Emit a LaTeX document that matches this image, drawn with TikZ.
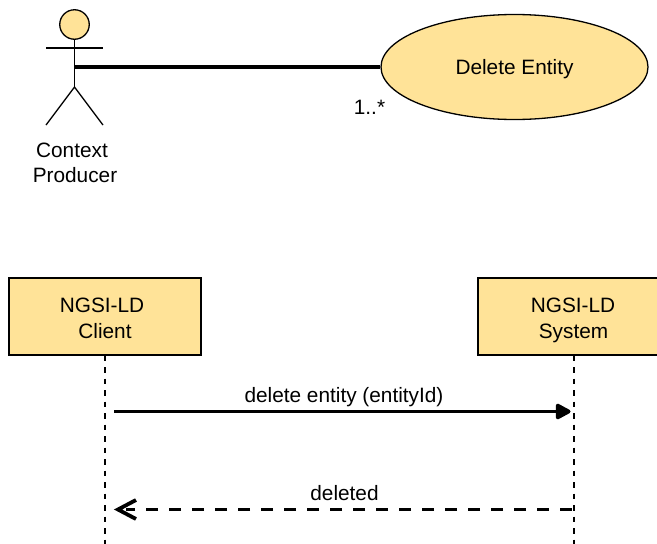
\documentclass[tikz,border=0pt]{standalone}
\usepackage{fontspec}
\setmainfont{Liberation Sans}
\usetikzlibrary{shapes.geometric,arrows.meta}
\definecolor{fillY}{HTML}{FFE398}
\pgfdeclarearrow{
  name=OpenVee,
  setup code={
    \pgfarrowssettipend{0pt}
    \pgfarrowssetlineend{-10pt}
    \pgfarrowssetbackend{-20pt}
    \pgfarrowshullpoint{0pt}{0pt}
    \pgfarrowshullpoint{-20pt}{11pt}
    \pgfarrowshullpoint{-20pt}{-11pt}
  },
  drawing code={
    \pgfsetdash{}{0pt}
    \pgfsetlinewidth{3.8pt}
    \pgfsetmiterjoin
    \pgfpathmoveto{\pgfpoint{-20pt}{9.5pt}}
    \pgfpathlineto{\pgfpoint{-2pt}{0pt}}
    \pgfpathlineto{\pgfpoint{-20pt}{-9.5pt}}
    \pgfusepathqstroke
  },
}
\tikzset{
  x=1pt,y=-1pt,
  txt/.style={font=\fontsize{20.8pt}{25pt}\selectfont,align=center,inner sep=0pt},
  small/.style={font=\fontsize{20.8pt}{25pt}\selectfont,inner sep=0pt},
  box/.style={draw=black,fill=fillY,line width=1.3pt,rectangle,minimum width=192pt,minimum height=77pt,inner sep=0pt,align=center,font=\fontsize{20.8pt}{26.5pt}\selectfont},
  limb/.style={draw=black,line width=1.3pt},
  life/.style={draw=black,line width=1.3pt,dash pattern=on 5.5pt off 6pt},
  assoc/.style={draw=black,line width=3.8pt},
  msg/.style={draw=black,line width=3.8pt,-{Triangle[length=17pt,width=17pt,round]}},
  reply/.style={draw=black,line width=3.8pt,dash pattern=on 12pt off 11pt,-{OpenVee}},
}
\begin{document}
\begin{tikzpicture}
\useasboundingbox (0,0) rectangle (657,544);
\clip (0,0) rectangle (657,544);
% actor
\node (head) at (74.5,24.5) [circle,draw=black,fill=fillY,line width=1.3pt,minimum size=29.5pt,inner sep=0pt] {};
\coordinate (hip) at (74.5,87);
\coordinate (waist) at (74.5,67);
\coordinate (armL) at (46,48);
\coordinate (armR) at (103,48);
\coordinate (legL) at (46,125);
\coordinate (legR) at (103,125);
\draw[limb] (head.south) -- (hip);
\draw[limb] (armL) -- (armR);
\draw[limb] (legL) -- (hip) -- (legR);
\node[txt] (actorlabel) at (75,166.5) {Context\hspace*{6pt}\\ Producer\strut};
% use case
\node (uc) at (514.5,67) [ellipse,draw=black,fill=fillY,line width=1.3pt,minimum width=267pt,minimum height=105pt,inner sep=0pt,font=\fontsize{20.8pt}{25pt}\selectfont] {\raisebox{-7pt}[0pt][0pt]{Delete Entity}};
\draw[assoc] (waist) -- (uc.west);
\node[small,anchor=base] (mult) at (369.5,114) {1..*};
% lifelines
\node[box] (client) at (105,316.5) {\rule{0pt}{26pt}NGSI-LD\hspace*{6pt}\\ Client\strut};
\node[box] (system) at (574,316.5) {\rule{0pt}{26pt}NGSI-LD\hspace*{2pt}\\ System\hspace*{1pt}\strut};
\coordinate (clientEnd) at (105,544);
\coordinate (systemEnd) at (574,544);
\draw[life] (client.south) -- (clientEnd);
\draw[life] (system.south) -- (systemEnd);
% messages
\coordinate (m1s) at (114,411.5);
\coordinate (m1e) at (570.5,411.5);
\coordinate (m2s) at (572,509.5);
\coordinate (m2e) at (116,509.5);
\draw[msg] (m1s) -- (m1e);
\node[small,anchor=base] (m1l) at (344,402.5) {delete entity (entityId)};
\draw[reply] (m2s) -- (m2e);
\node[small,anchor=base] (m2l) at (344.5,500) {deleted};
\end{tikzpicture}
\end{document}
